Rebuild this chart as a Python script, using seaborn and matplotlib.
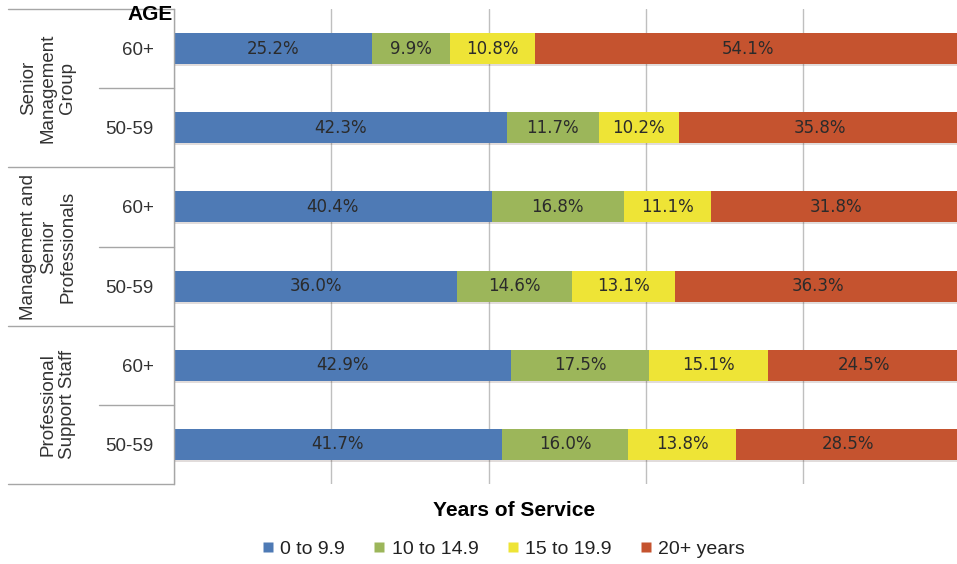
import pandas as pd
import matplotlib
matplotlib.use("Agg")
import matplotlib.pyplot as plt
import matplotlib.patheffects as pe
from matplotlib.lines import Line2D
import seaborn as sns

groups = ["Senior\nManagement\nGroup", "Management and\nSenior\nProfessionals", "Professional\nSupport Staff"]
ages = ["60+", "50-59", "60+", "50-59", "60+", "50-59"]
rows = ["SMG 60+", "SMG 50-59", "MSP 60+", "MSP 50-59", "PSS 60+", "PSS 50-59"]
series = ["0 to 9.9", "10 to 14.9", "15 to 19.9", "20+ years"]
yrs_0_10 = [25.2, 42.3, 40.4, 36.0, 42.9, 41.7]
yrs_10_15 = [9.9, 11.7, 16.8, 14.6, 17.5, 16.0]
yrs_15_20 = [10.8, 10.2, 11.1, 13.1, 15.1, 13.8]
yrs_20_up = [54.1, 35.8, 31.8, 36.3, 24.5, 28.5]
colors = ["#4E7AB5", "#9CB65A", "#EEE436", "#C5532F"]

df = pd.DataFrame({"row": rows, series[0]: yrs_0_10, series[1]: yrs_10_15,
                   series[2]: yrs_15_20, series[3]: yrs_20_up})
cum = df[series].cumsum(axis=1)

sns.set_theme(style="white")
plt.rcParams['font.family'] = ['Liberation Sans', 'DejaVu Sans']

fig = plt.figure(figsize=(9.57, 5.64), dpi=100)
ax = fig.add_axes([174 / 957, 80 / 564, 786.5 / 957, 475 / 564])

# stacked bars: draw cumulative totals from the right-most segment down
for k in range(3, -1, -1):
    sns.barplot(x=cum[series[k]], y=df["row"], order=rows, color=colors[k],
                width=0.39, saturation=1, ax=ax, edgecolor="none")
    if k == 3:
        for p in ax.patches:
            p.set_path_effects([pe.SimplePatchShadow(offset=(0.5, -1.5), alpha=0.15), pe.Normal()])

for i in range(len(rows)):
    for k, s in enumerate(series):
        v = df[s][i]
        mid = cum[s][i] - v / 2
        ax.text(mid, i, f"{v:.1f}%", ha="center", va="center", fontsize=12,
                color="#2b2b2b", family="DejaVu Sans")

ax.set_xlim(0, 100)
ax.set_ylim(5.5, -0.5)
ax.set_xticks([0, 20, 40, 60, 80, 100])
ax.set_xticklabels([])
ax.grid(axis="x", color="#BFBFBF", linewidth=1)
ax.set_axisbelow(True)
ax.set_xlabel("")
ax.set_ylabel("")
ax.set_yticks(range(len(rows)))
ax.set_yticklabels(ages, fontsize=13.5, color="#333333")
ax.tick_params(axis="y", length=0, pad=14.5)
ax.tick_params(axis="x", length=0)
for side in ["top", "right", "bottom"]:
    ax.spines[side].set_visible(False)
ax.spines["left"].set_color("#A6A6A6")
ax.spines["left"].set_linewidth(1)

tr = ax.get_yaxis_transform()
for y in [-0.5, 1.5, 3.5, 5.5]:
    ax.plot([-0.2111, 0], [y, y], color="#A6A6A6", lw=1, transform=tr, clip_on=False)
for y in [0.5, 2.5, 4.5]:
    ax.plot([-0.0954, 0], [y, y], color="#A6A6A6", lw=1, transform=tr, clip_on=False)

group_x = [-0.160, -0.160, -0.1475]
for g, (name, gx) in enumerate(zip(groups, group_x)):
    ax.text(gx, 2 * g + 0.5, name, rotation=90, ha="center", va="center",
            fontsize=13.5, color="#333333", transform=tr, linespacing=1.2,
            multialignment="center")

fig.text(173 / 957, 1 - 14 / 564, "AGE", ha="right", va="center", fontsize=15,
         fontweight="bold", color="black")
fig.text(514 / 957, 1 - 510 / 564, "Years of Service", ha="center", va="center",
         fontsize=15, fontweight="bold", color="black")

handles = [Line2D([], [], marker="s", linestyle="none", markersize=7,
                  markerfacecolor=c, markeredgecolor="none") for c in colors]
fig.legend(handles, series, loc="center", bbox_to_anchor=(503 / 957, 1 - 549 / 564),
           ncol=4, frameon=False, fontsize=14, handlelength=0.7, handletextpad=0.3,
           columnspacing=1.4, labelcolor="#222222")

fig.savefig("out.png", dpi=100)
